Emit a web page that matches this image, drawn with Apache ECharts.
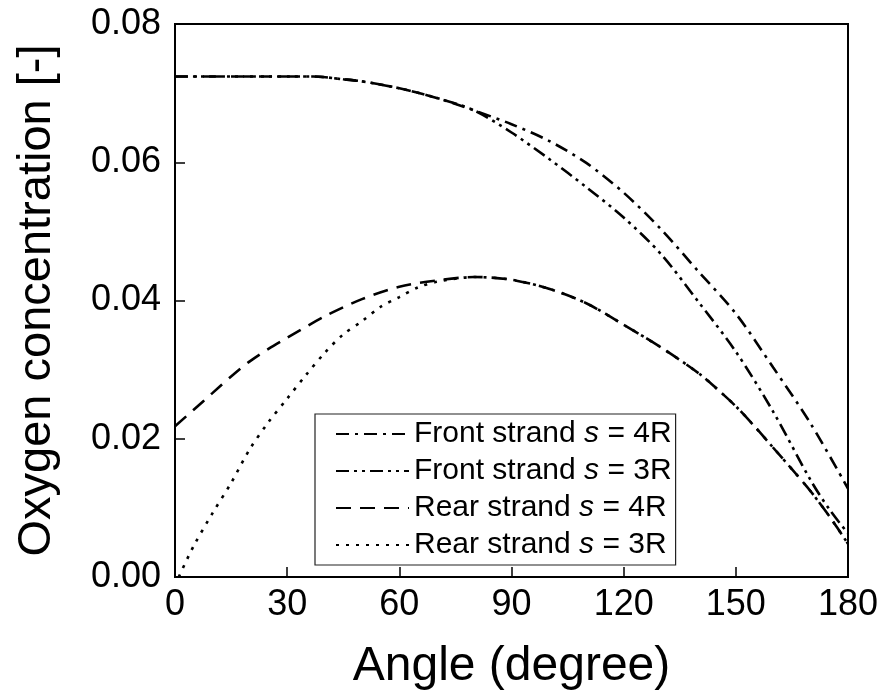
<!DOCTYPE html>
<html>
<head>
<meta charset="utf-8">
<script src="https://cdn.jsdelivr.net/npm/echarts@6/dist/echarts.min.js"></script>
<style>
  html, body { margin: 0; padding: 0; background: #fff; }
  #chart { width: 883px; height: 700px; }
</style>
</head>
<body>
<div id="chart"></div>
<script>
// angles (degree) and oxygen concentration [-]
var front4Angles = [0, 10, 20, 30, 37, 45, 50, 60, 70, 80, 90, 100, 110, 120, 130, 140, 150, 160, 170, 180];
var front4Values = [0.0724, 0.0724, 0.0724, 0.0724, 0.0724, 0.0720, 0.0717, 0.0707, 0.0693, 0.0675, 0.0655, 0.0631, 0.0599, 0.0556, 0.0503, 0.0442, 0.0381, 0.0303, 0.0222, 0.0128];

var front3Angles = [0, 10, 20, 30, 37, 45, 50, 60, 70, 80, 90, 100, 110, 120, 130, 140, 150, 160, 170, 175, 180];
var front3Values = [0.0724, 0.0724, 0.0724, 0.0724, 0.0724, 0.0720, 0.0717, 0.0707, 0.0693, 0.0675, 0.0643, 0.0605, 0.0564, 0.0520, 0.0467, 0.0398, 0.0326, 0.0239, 0.0140, 0.0098, 0.0063];

var rear4Angles = [0, 5, 10, 15, 20, 25, 30, 40, 50, 60, 70, 80, 90, 100, 110, 120, 130, 140, 145, 150, 155, 160, 165, 170, 175, 180];
var rear4Values = [0.0218, 0.0242, 0.0266, 0.0290, 0.0312, 0.0330, 0.0346, 0.0377, 0.0402, 0.0420, 0.0429, 0.0434, 0.0430, 0.0417, 0.0396, 0.0365, 0.0332, 0.0295, 0.0272, 0.0247, 0.0218, 0.0187, 0.0156, 0.0124, 0.0088, 0.0048];

var rear3Angles = [1, 5, 10, 15, 20, 25, 30, 35, 40, 45, 50, 55, 60, 65, 70, 80, 90, 100, 110, 120, 130, 140, 145, 150, 155, 160, 165, 170, 175, 180];
var rear3Values = [0.0000, 0.0045, 0.0092, 0.0136, 0.0185, 0.0224, 0.0258, 0.0292, 0.0324, 0.0351, 0.0370, 0.0391, 0.0405, 0.0419, 0.0427, 0.0434, 0.0430, 0.0417, 0.0396, 0.0365, 0.0332, 0.0295, 0.0272, 0.0247, 0.0218, 0.0187, 0.0156, 0.0124, 0.0088, 0.0048];

var seriesNames = ['Front strand s = 4R', 'Front strand s = 3R', 'Rear strand s = 4R', 'Rear strand s = 3R'];
var xTicks = [0, 30, 60, 90, 120, 150, 180];
var yTicks = [0, 0.02, 0.04, 0.06, 0.08];

var FONT = 'Liberation Sans, Arial, sans-serif';

function pairs(xs, ys) {
    return xs.map(function (x, i) { return [x, ys[i]]; });
}

function makeLine(name, xs, ys, dash) {
    return {
        name: name,
        type: 'line',
        data: pairs(xs, ys),
        showSymbol: false,
        symbol: 'none',
        smooth: 0.3,
        color: '#000',
        lineStyle: { color: '#000', width: 2.6, type: dash, cap: 'butt' }
    };
}

var myChart = echarts.init(document.getElementById('chart'), null, { renderer: 'canvas' });

var option = {
    backgroundColor: '#fff',
    animation: false,
    grid: {
        left: 175, right: 35, top: 24, bottom: 123,
        show: true, borderColor: '#000', borderWidth: 2, backgroundColor: 'transparent'
    },
    legend: {
        orient: 'vertical',
        left: 315, top: 414,
        padding: [5, 4, 5, 20],
        itemGap: 7,
        itemWidth: 73,
        itemHeight: 14,
        borderColor: '#222',
        borderWidth: 1.2,
        backgroundColor: '#fff',
        itemStyle: { opacity: 0 },
        data: seriesNames,
        formatter: function (name) {
            var parts = name.split(' s ');
            return '{n|' + parts[0] + ' }{i|s}{n| ' + parts[1] + '}';
        },
        textStyle: {
            color: '#000', fontFamily: FONT, fontSize: 30, lineHeight: 30,
            rich: {
                n: { color: '#000', fontFamily: FONT, fontSize: 30, lineHeight: 30 },
                i: { color: '#000', fontFamily: FONT, fontSize: 30, lineHeight: 30, fontStyle: 'italic' }
            }
        }
    },
    xAxis: {
        type: 'value',
        min: xTicks[0], max: xTicks[xTicks.length - 1], interval: 30,
        name: 'Angle (degree)',
        nameLocation: 'middle',
        nameGap: 66,
        nameTextStyle: { color: '#000', fontFamily: FONT, fontSize: 48 },
        axisLine: { show: true, lineStyle: { color: '#000', width: 2 } },
        axisTick: { show: true, inside: true, length: 10, lineStyle: { color: '#000', width: 1.5 } },
        axisLabel: { color: '#000', fontFamily: FONT, fontSize: 36, margin: 10 },
        splitLine: { show: false }
    },
    yAxis: {
        type: 'value',
        min: yTicks[0], max: yTicks[yTicks.length - 1], interval: 0.02,
        name: 'Oxygen concentration [-]',
        nameLocation: 'middle',
        nameGap: 114,
        nameRotate: 90,
        nameTextStyle: { color: '#000', fontFamily: FONT, fontSize: 47 },
        axisLine: { show: true, lineStyle: { color: '#000', width: 2 } },
        axisTick: { show: true, inside: true, length: 10, lineStyle: { color: '#000', width: 1.5 } },
        axisLabel: {
            color: '#000', fontFamily: FONT, fontSize: 36, margin: 14,
            formatter: function (v) { return v.toFixed(2); }
        },
        splitLine: { show: false }
    },
    series: [
        makeLine(seriesNames[0], front4Angles, front4Values, [13, 6, 3, 6]),
        makeLine(seriesNames[1], front3Angles, front3Values, [13, 5, 3, 5, 3, 5]),
        makeLine(seriesNames[2], rear4Angles, rear4Values, [15, 9]),
        makeLine(seriesNames[3], rear3Angles, rear3Values, [3, 7])
    ]
};

option && myChart.setOption(option);
</script>
</body>
</html>
